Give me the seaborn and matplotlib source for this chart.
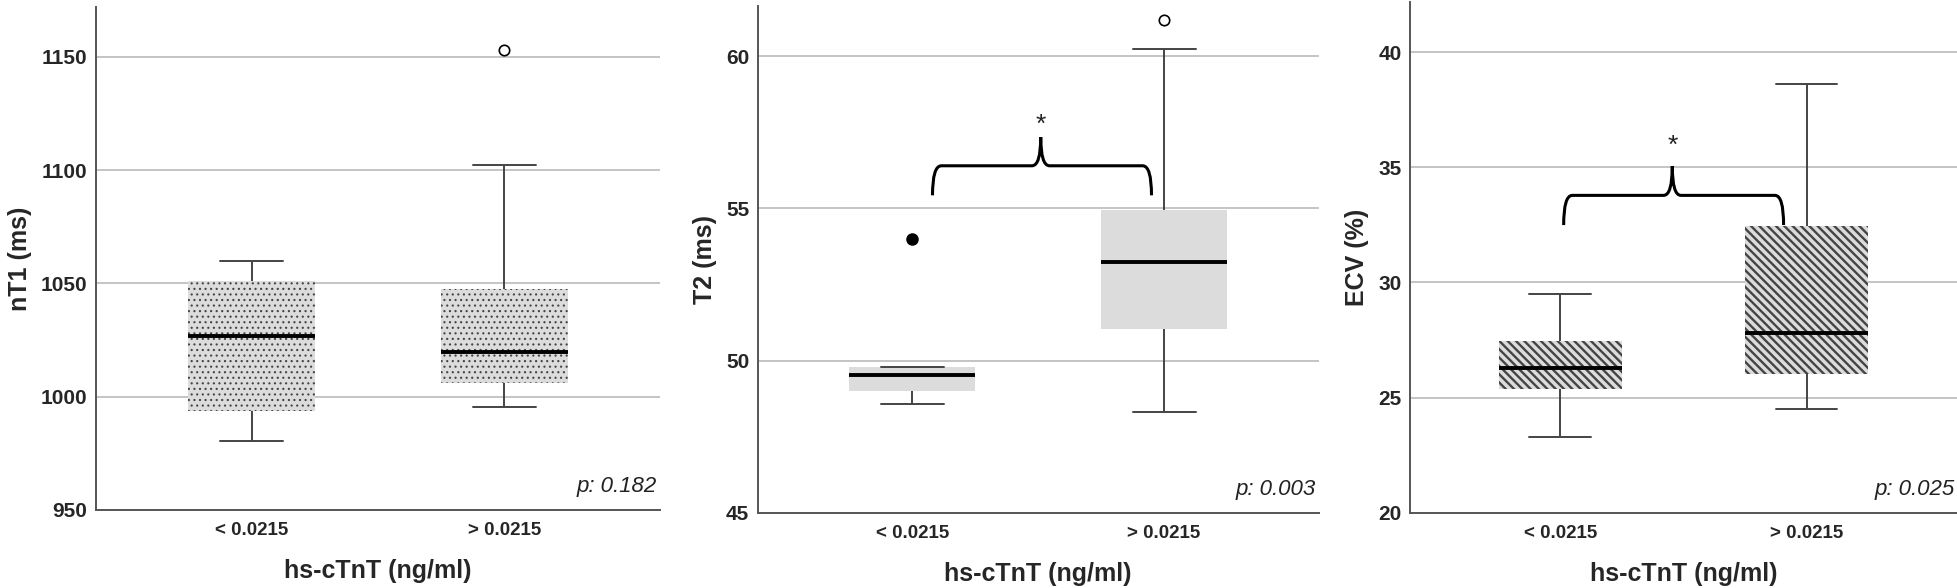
import pandas as pd
import matplotlib.pyplot as plt
import seaborn as sns
from matplotlib.path import Path
from matplotlib.patches import PathPatch

# Grupos de hs-cTnT
groups = ['< 0.0215', '> 0.0215']

# Resumen de cinco números por grupo (mín, Q1, mediana, Q3, máx de los bigotes)
nt1_low = [980.6, 993.9, 1027.0, 1051.0, 1060.1]
nt1_high = [995.5, 1006.0, 1019.9, 1047.7, 1102.2]
t2_low = [48.58, 49.02, 49.52, 49.79, 49.80]
t2_high = [48.30, 51.03, 53.23, 54.96, 60.22]
ecv_low = [23.29, 25.36, 26.29, 27.47, 29.50]
ecv_high = [24.50, 26.03, 27.80, 32.47, 38.60]

# Valores atípicos (grupo, valor, extremo)
nt1_out_group = ['> 0.0215']
nt1_out_value = [1153.1]
t2_out_group = ['< 0.0215', '> 0.0215']
t2_out_value = [54.0, 61.2]
t2_out_extreme = [True, False]

p_values = ['p: 0.182', 'p: 0.003', 'p: 0.025']
y_labels = ['nT1 (ms)', 'T2 (ms)', 'ECV (%)']
y_ticks = [[950, 1000, 1050, 1100, 1150], [45, 50, 55, 60], [20, 25, 30, 35, 40]]
y_limits = [(950, 1172.2), (45, 61.66), (20, 42.2)]
hatches = ['...', '', '\\\\\\\\']
hatch_lw = [0.8, 1.0, 1.7]

# Llaves de significación: (x inicio, x punta, x fin, y extremos, y nivel, y punta, y asterisco)
brace_t2 = [0.08, 0.51, 0.95, 55.43, 56.40, 57.34, 57.75]
brace_ecv = [0.014, 0.455, 0.907, 32.49, 33.78, 35.05, 35.95]

sns.set_theme(style='white')
plt.rcParams['font.family'] = ['Liberation Sans', 'DejaVu Sans']

fig = plt.figure(figsize=(19.58, 5.88), dpi=100)
positions = [[0.0490, 0.1327, 0.2881, 0.8559],
             [0.3869, 0.1276, 0.2867, 0.8629],
             [0.7201, 0.1282, 0.2799, 0.8692]]
axes = [fig.add_axes(p) for p in positions]


def summary_frame(low, high):
    return pd.DataFrame({
        'grupo': [groups[0]] * len(low) + [groups[1]] * len(high),
        'valor': low + high,
    })


def draw_brace(ax, b):
    x0, xm, x1, y_end, y_lvl, y_tip, y_star = b
    r = 0.035
    verts = [(x0, y_end), (x0, y_lvl), (x0 + r, y_lvl),
             (xm - r, y_lvl),
             (xm, y_lvl), (xm, y_tip),
             (xm, y_lvl), (xm + r, y_lvl),
             (x1 - r, y_lvl),
             (x1, y_lvl), (x1, y_end)]
    codes = [Path.MOVETO, Path.CURVE3, Path.CURVE3,
             Path.LINETO,
             Path.CURVE3, Path.CURVE3,
             Path.CURVE3, Path.CURVE3,
             Path.LINETO,
             Path.CURVE3, Path.CURVE3]
    ax.add_patch(PathPatch(Path(verts, codes), fill=False, lw=2.2,
                           edgecolor='black', zorder=5))
    ax.text(xm, y_star, '*', ha='center', va='center', fontsize=19,
            color='#222222')


datasets = [(nt1_low, nt1_high), (t2_low, t2_high), (ecv_low, ecv_high)]

for i, ax in enumerate(axes):
    plt.rcParams['hatch.linewidth'] = hatch_lw[i]
    df = summary_frame(*datasets[i])
    sns.boxplot(data=df, x='grupo', y='valor', order=groups, ax=ax,
                color='#dcdcdc', saturation=1, width=0.5, whis=(0, 100),
                linewidth=1.4,
                whiskerprops={'color': '#444444'},
                capprops={'color': '#444444'},
                medianprops={'color': 'black', 'linewidth': 2.8})
    for patch in ax.patches:
        patch.set_facecolor('#dcdcdc')
        patch.set_edgecolor('#444444')
        patch.set_linewidth(0)
        patch.set_hatch(hatches[i])
        if hasattr(patch, 'set_hatch_linewidth'):
            patch.set_hatch_linewidth(hatch_lw[i])

    ax.set_yticks(y_ticks[i])
    ax.yaxis.grid(True, color='#c4c4c4', linewidth=1.4)
    ax.set_axisbelow(True)
    for s in ['top', 'right']:
        ax.spines[s].set_visible(False)
    for s in ['left', 'bottom']:
        ax.spines[s].set_color('#555555')
        ax.spines[s].set_linewidth(1.4)
    ax.tick_params(axis='y', length=0, labelsize=15, pad=6)
    ax.tick_params(axis='x', length=0, labelsize=13.5, pad=9)
    ax.text(0.995, 0.025, p_values[i], transform=ax.transAxes, ha='right',
            va='bottom', fontsize=16, style='italic', color='#222222')

# Valores atípicos
out1 = pd.DataFrame({'grupo': nt1_out_group, 'valor': nt1_out_value})
sns.stripplot(data=out1, x='grupo', y='valor', order=groups, jitter=False,
              ax=axes[0], color='white', edgecolor='black', linewidth=1.2,
              size=7.5)
out2 = pd.DataFrame({'grupo': t2_out_group, 'valor': t2_out_value,
                     'extremo': t2_out_extreme})
sns.stripplot(data=out2[~out2['extremo']], x='grupo', y='valor', order=groups,
              jitter=False, ax=axes[1], color='white', edgecolor='black',
              linewidth=1.2, size=7.5)
sns.stripplot(data=out2[out2['extremo']], x='grupo', y='valor', order=groups,
              jitter=False, ax=axes[1], color='black', edgecolor='black',
              linewidth=1, size=8)

draw_brace(axes[1], brace_t2)
draw_brace(axes[2], brace_ecv)

x_limits = [(-0.615, 1.615), (-0.615, 1.615), (-0.61, 1.615)]
for i, ax in enumerate(axes):
    ax.set_xlim(*x_limits[i])
    ax.set_ylim(*y_limits[i])
    for lab in ax.get_xticklabels() + ax.get_yticklabels():
        lab.set_fontweight('bold')
    ax.set_xlabel('hs-cTnT (ng/ml)', fontsize=18, fontweight='bold', labelpad=14)
    ax.set_ylabel(y_labels[i], fontsize=18, fontweight='bold', labelpad=6.5)

plt.savefig('out.png', dpi=100)
